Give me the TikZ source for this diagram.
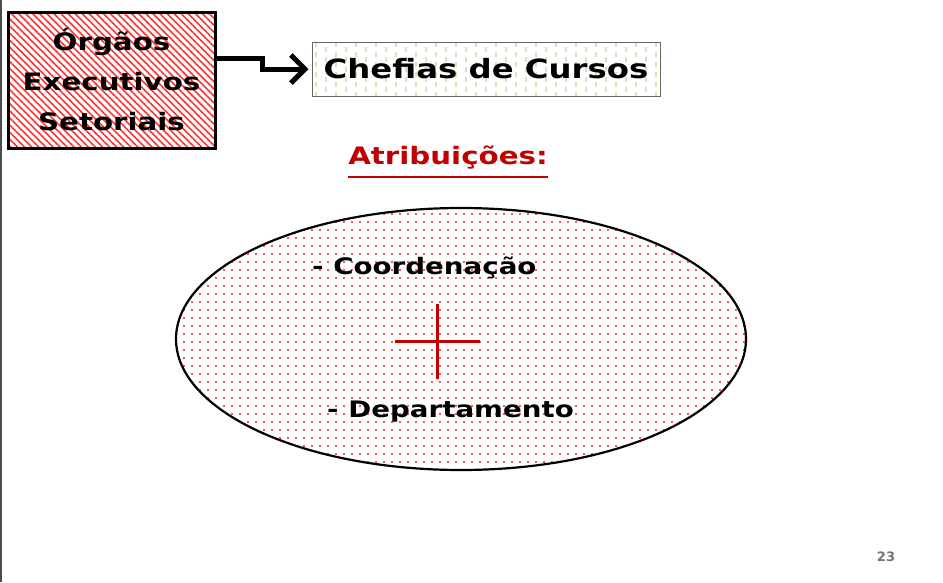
\documentclass[tikz,border=0pt]{standalone}
\usepackage{fontspec}
\setmainfont{DejaVu Sans}
\newfontfamily\widefont[FakeStretch=1.22]{DejaVu Sans}
\usetikzlibrary{patterns.meta,arrows.meta,calc}
\definecolor{dred}{HTML}{C00000}
\definecolor{pgreen}{HTML}{D6E4BC}
\begin{document}
\begin{tikzpicture}[x=1pt,y=-1pt,
  txt/.style={align=center, inner sep=0pt},
  hatchbox/.style={draw=black, line width=3pt, minimum width=207pt, minimum height=136pt,
    pattern={Lines[angle=-45,distance=5pt,line width=1.6pt]}, pattern color=red!80},
  plainbox/.style={draw=black!60, line width=1pt, minimum width=348pt, minimum height=54pt},
  bigoval/.style={draw=black, line width=2.2pt},
  conn/.style={line width=5pt, -{Straight Barb[length=14pt,width=28pt,line width=5pt]}},
  crossline/.style={draw=dred, line width=3pt},
  uline/.style={draw=dred, line width=2.5pt}
]
\useasboundingbox (0,0) rectangle (943,582);
\fill[white] (0,0) rectangle (943,582);
\draw[black!70, line width=1.5pt] (1,0) -- (1,582);

% ellipse with dots
\fill[white] (461,339) ellipse [x radius=285, y radius=131];
\fill[pattern={Dots[radius=1.2pt,distance=8pt]}, pattern color=red!90] (461,339) ellipse [x radius=285, y radius=131];
\draw[bigoval] (461,339) ellipse [x radius=285, y radius=131];

% box 2 background with dashed lines
\begin{scope}
\clip (312,42) rectangle (660,96);
\foreach \i in {0,...,35} {
  \draw[pgreen, line width=1.2pt, dash pattern=on 5pt off 5pt, dash phase={mod(\i,2)*5}] (316+\i*10,42) -- (316+\i*10,96);
}
\end{scope}
\node[plainbox, txt, font=\widefont\bfseries\fontsize{26.5}{30}\selectfont] (chef) at (486,69) {Chefias de Cursos};

\node[hatchbox, txt, font=\widefont\bfseries\fontsize{24}{40}\selectfont] (org) at (111.5,80) {Órgãos\\Executivos\\Setoriais};

\draw[conn] ([yshift=22pt]org.east) -- ++(47,0) |- ([xshift=-3pt]chef.west);

\node[txt, text=dred, font=\widefont\bfseries\fontsize{24}{28}\selectfont] (atr) at (448,158) {Atribuições:};
\draw[uline] ([yshift=-7pt]atr.south west) -- ([yshift=-7pt]atr.south east);

\node[txt, anchor=west, font=\widefont\bfseries\fontsize{22.7}{26}\selectfont] (coord) at (312,268) {- Coordenação};
\node[txt, anchor=west, font=\widefont\bfseries\fontsize{22.7}{26}\selectfont] (dep) at (327,412) {- Departamento};

\coordinate (cc) at (437,341);
\draw[crossline] ($(cc)+(-42,0)$) -- ($(cc)+(43,0)$);
\draw[crossline] ($(cc)+(0,-37)$) -- ($(cc)+(0,38)$);

\node[font=\bfseries\fontsize{13}{15}\selectfont, text=black!55, inner sep=0pt] (pg) at (886,557) {23};
\end{tikzpicture}
\end{document}
